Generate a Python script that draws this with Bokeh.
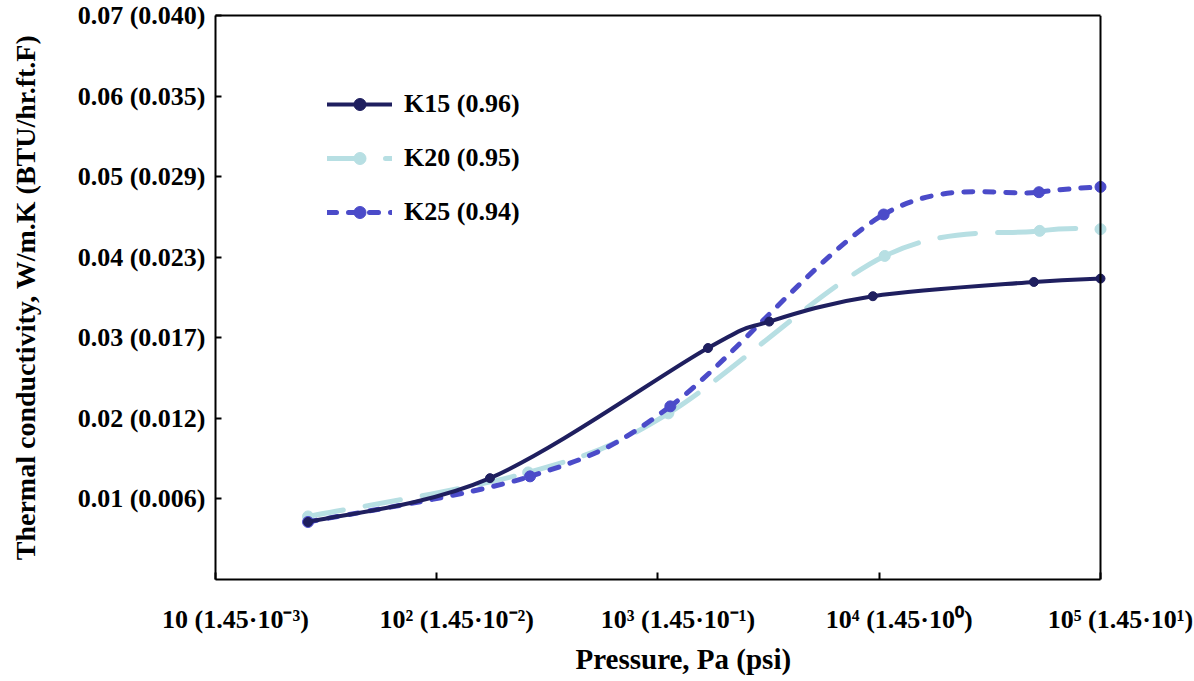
import numpy as np
from bokeh.plotting import figure
from bokeh.models import (ColumnDataSource, FixedTicker, Legend, LegendItem, Range1d,
                          LogAxis, LogScale, Title, Span)
from bokeh.embed import file_html
from bokeh.resources import INLINE

# ---- data ----
k15_p = [26.2, 174, 1683, 3184, 9357, 50000, 100000]
k15_k = [0.00714, 0.01258, 0.02873, 0.03201, 0.03516, 0.03693, 0.03735]

k20_p = [26.2, 259, 1114, 10590, 53100, 100000]
k20_k = [0.00783, 0.01329, 0.02062, 0.04016, 0.04327, 0.04348]

k25_p = [26.2, 264, 1137, 10470, 52700, 100000]
k25_k = [0.00714, 0.01280, 0.02149, 0.04530, 0.04807, 0.04873]

series_names = ["K15 (0.96)", "K20 (0.95)", "K25 (0.94)"]

x_ticks = [10, 100, 1000, 10000, 100000]
x_tick_labels = ["10 (1.45·10⁻³)", "10² (1.45·10⁻²)", "10³ (1.45·10⁻¹)",
                 "10⁴ (1.45·10⁰)", "10⁵ (1.45·10¹)"]
y_ticks = [0.01, 0.02, 0.03, 0.04, 0.05, 0.06, 0.07]
y_tick_labels = ["0.01 (0.006)", "0.02 (0.012)", "0.03 (0.017)", "0.04 (0.023)",
                 "0.05 (0.029)", "0.06 (0.035)", "0.07 (0.040)"]

X_MIN, X_MAX = 10, 100000

FONT = "Liberation Serif"
TICK_FS = "26px"
TITLE_FS = "28px"
LEG_FS = "26px"
DECADE_PX = 221.2          # pixel width of one decade on the x axis
LABEL_SHIFT_PX = 20        # tick labels sit a little right of their ticks
EXTRA_PX = 22              # blank strip right of the 1e5 border (room for the last label)

shift = LABEL_SHIFT_PX / DECADE_PX
extra = EXTRA_PX / DECADE_PX

p = figure(width=1194, height=679, x_axis_type="log",
           x_range=Range1d(X_MIN, X_MAX * 10 ** extra), y_range=Range1d(0, 0.07),
           output_backend="svg", toolbar_location=None,
           min_border_left=215, min_border_right=72, min_border_top=15, min_border_bottom=100)
p.xgrid.visible = False
p.ygrid.visible = False
p.outline_line_color = None
p.background_fill_color = "white"
p.border_fill_color = "white"

main_x = p.below[0]
main_y = p.left[0]


def smooth_segments(xs, ys):
    """Catmull-Rom -> cubic Bezier control points in (log10 x, y) space."""
    lx = np.log10(np.asarray(xs, dtype=float))
    yy = np.asarray(ys, dtype=float)
    n = len(lx)
    d = dict(x0=[], y0=[], x1=[], y1=[], cx0=[], cy0=[], cx1=[], cy1=[])
    for i in range(n - 1):
        i0 = max(i - 1, 0)
        i3 = min(i + 2, n - 1)
        c0x = lx[i] + (lx[i + 1] - lx[i0]) / 6.0
        c0y = yy[i] + (yy[i + 1] - yy[i0]) / 6.0
        c1x = lx[i + 1] - (lx[i3] - lx[i]) / 6.0
        c1y = yy[i + 1] - (yy[i3] - yy[i]) / 6.0
        d["x0"].append(10 ** lx[i]); d["y0"].append(yy[i])
        d["x1"].append(10 ** lx[i + 1]); d["y1"].append(yy[i + 1])
        d["cx0"].append(10 ** c0x); d["cy0"].append(c0y)
        d["cx1"].append(10 ** c1x); d["cy1"].append(c1y)
    return ColumnDataSource(d)


styles = [
    dict(color="#1F1F5F", width=4, dash="solid", size=9, cap="round"),
    dict(color="#B7DFE3", width=5, dash="36 22", size=11, cap="round"),
    dict(color="#4B4BC9", width=5, dash="9 12", size=11, cap="round"),
]
data = [(k15_p, k15_k), (k20_p, k20_k), (k25_p, k25_k)]
order = [1, 2, 0]  # light first, dark last
renderers = {}
for i in order:
    xs, ys = data[i]
    st = styles[i]
    src = smooth_segments(xs, ys)
    p.bezier(x0="x0", y0="y0", x1="x1", y1="y1", cx0="cx0", cy0="cy0",
             cx1="cx1", cy1="cy1", source=src, line_color=st["color"],
             line_width=st["width"], line_dash=st["dash"], line_cap=st["cap"])
    sc = p.scatter(xs, ys, size=st["size"], fill_color=st["color"], line_color=st["color"])
    # line renderer used only for the legend sample
    ln = p.line(x=[np.nan], y=[np.nan], line_color=st["color"], line_width=st["width"],
                line_dash=st["dash"], line_cap=st["cap"])
    renderers[i] = (ln, sc)

items = [LegendItem(label=series_names[i], renderers=list(renderers[i])) for i in range(3)]
legend = Legend(items=items, location=(112, 352), orientation="vertical",
                background_fill_alpha=0, border_line_alpha=0, padding=0, margin=0,
                spacing=24, glyph_width=65, glyph_height=30, label_height=30,
                label_standoff=12, label_text_font=FONT, label_text_font_style="bold",
                label_text_font_size=LEG_FS, label_text_color="black")
p.add_layout(legend, "center")

# right border of the plot area at the last decade
p.add_layout(Span(location=X_MAX, dimension="height", line_color="black", line_width=2))

# main x axis: ticks only, ending at the last decade
main_x.bounds = (X_MIN, X_MAX)
main_x.ticker = FixedTicker(ticks=x_ticks)
main_x.major_label_overrides = {t: "" for t in x_ticks}
main_x.major_label_standoff = 0
main_x.minor_tick_line_color = None
main_x.major_tick_in = 7
main_x.major_tick_out = 0
main_x.axis_line_width = 2
main_x.major_tick_line_width = 2
main_x.axis_line_color = "black"
main_x.major_tick_line_color = "black"

# top border
top_axis = LogAxis(ticker=FixedTicker(ticks=[]), bounds=(X_MIN, X_MAX),
                   axis_line_color="black", axis_line_width=2,
                   major_tick_line_color=None, minor_tick_line_color=None,
                   major_label_text_font_size="0px", major_label_standoff=0)
p.add_layout(top_axis, "above")

# label axis, shifted slightly right as in the reference
p.extra_x_ranges = {"lab": Range1d(10 ** (1 - shift), X_MAX * 10 ** (extra - shift))}
p.extra_x_scales = {"lab": LogScale()}
lab_axis = LogAxis(x_range_name="lab", ticker=FixedTicker(ticks=x_ticks),
                   major_label_overrides={t: s for t, s in zip(x_ticks, x_tick_labels)},
                   axis_line_color=None, major_tick_line_color=None,
                   minor_tick_line_color=None, major_label_standoff=19,
                   major_label_text_font=FONT, major_label_text_font_style="bold",
                   major_label_text_font_size=TICK_FS, major_label_text_color="black")
p.add_layout(lab_axis, "below")

p.add_layout(Title(text="Pressure, Pa (psi)", align="left", offset=360, standoff=9,
                   text_font=FONT, text_font_style="bold", text_font_size="29px",
                   text_color="black"), "below")

main_y.ticker = FixedTicker(ticks=y_ticks)
main_y.major_label_overrides = {t: s for t, s in zip(y_ticks, y_tick_labels)}
main_y.minor_tick_line_color = None
main_y.major_tick_in = 6
main_y.major_tick_out = 0
main_y.axis_line_width = 2
main_y.major_tick_line_width = 2
main_y.axis_line_color = "black"
main_y.major_tick_line_color = "black"
main_y.major_label_standoff = 10
main_y.major_label_text_font = FONT
main_y.major_label_text_font_style = "bold"
main_y.major_label_text_font_size = TICK_FS
main_y.major_label_text_color = "black"
main_y.axis_label = "Thermal conductivity, W/m.K (BTU/hr.ft.F)"
main_y.axis_label_text_font = FONT
main_y.axis_label_text_font_style = "bold"
main_y.axis_label_text_font_size = TITLE_FS
main_y.axis_label_text_color = "black"
main_y.axis_label_standoff = 34

open("out.html", "w").write(file_html(p, INLINE))
